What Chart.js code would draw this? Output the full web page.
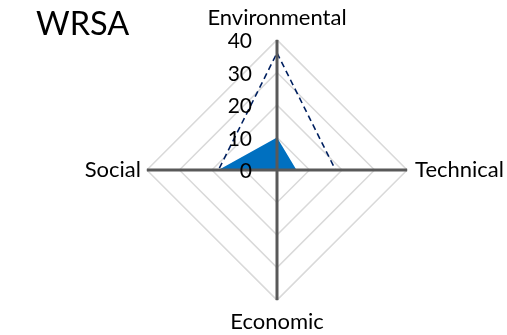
<!DOCTYPE html>
<html>
<head>
<meta charset="utf-8">
<script src="https://cdn.jsdelivr.net/npm/chart.js@4"></script>
<style>
  html, body { margin: 0; padding: 0; background: #fff; overflow: hidden; }
  #wrap { width: 545px; height: 335px; position: relative; }
</style>
</head>
<body>
<div id="wrap"><canvas id="c"></canvas></div>
<script>
const chartTitle = 'WRSA';
const categories = ['Environmental', 'Technical', 'Economic', 'Social'];
const currentScores = [10, 6, 0, 18];
const targetScores = [36, 18, 0, 18];
const tickValues = [0, 10, 20, 30, 40];

const FONT = 'Lato, "Open Sans", sans-serif';

// Spokes, value labels and the title are painted after the series,
// so the dark axes sit on top of the filled area.
const overlay = {
  id: 'overlay',
  afterDatasetsDraw(chart) {
    const s = chart.scales.r;
    const ctx = chart.ctx;
    ctx.save();
    ctx.strokeStyle = '#595959';
    ctx.lineWidth = 3;
    categories.forEach((_, i) => {
      const p = s.getPointPositionForValue(i, s.max);
      ctx.beginPath();
      ctx.moveTo(s.xCenter, s.yCenter);
      ctx.lineTo(p.x, p.y);
      ctx.stroke();
    });
    ctx.fillStyle = '#000';
    ctx.font = '21px ' + FONT;
    ctx.textAlign = 'right';
    ctx.textBaseline = 'middle';
    s.ticks.forEach(t => {
      const y = s.yCenter - s.getDistanceFromCenterForValue(t.value);
      ctx.fillText(String(t.value), s.xCenter - 25, y + 1.5);
    });
    ctx.textAlign = 'left';
    ctx.font = '32.5px ' + FONT;
    ctx.fillText(chartTitle, 36, 25);
    ctx.restore();
  }
};

new Chart(document.getElementById('c'), {
  type: 'radar',
  data: {
    labels: categories,
    datasets: [
      {
        label: 'Target',
        data: targetScores,
        borderColor: '#002060',
        borderWidth: 1.6,
        borderDash: [6, 4],
        fill: false,
        pointRadius: 0
      },
      {
        label: 'Current',
        data: currentScores,
        backgroundColor: '#0070C0',
        borderColor: '#0070C0',
        borderWidth: 0,
        fill: 'origin',
        pointRadius: 0
      }
    ]
  },
  options: {
    responsive: true,
    maintainAspectRatio: false,
    animation: false,
    layout: { padding: { left: 9, top: 5, bottom: 0, right: 0 } },
    plugins: { legend: { display: false }, tooltip: { enabled: false } },
    scales: {
      r: {
        min: 0,
        max: 40,
        ticks: { display: false, stepSize: 10 },
        afterBuildTicks: sc => { sc.ticks = tickValues.map(v => ({ value: v })); },
        grid: { color: '#d9d9d9', lineWidth: 1.5 },
        angleLines: { display: false },
        pointLabels: {
          color: '#000',
          font: { family: FONT, size: 22 },
          padding: ctx => [8.5, 8, 8.5, 6][ctx.index]
        }
      }
    }
  },
  plugins: [overlay]
});
</script>
</body>
</html>
